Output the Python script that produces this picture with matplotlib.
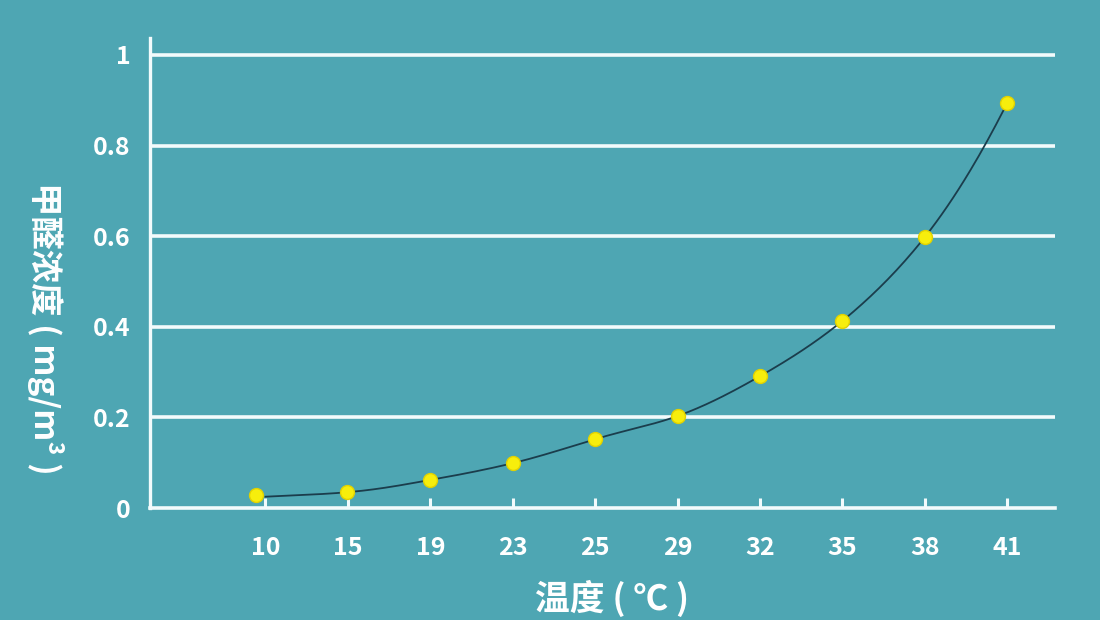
# 甲醛浓度随温度变化曲线
import numpy as np
import matplotlib
matplotlib.use('Agg')
import matplotlib.pyplot as plt

plt.rcParams['font.family'] = ['Noto Sans CJK SC', 'DejaVu Sans']

# 数据
temps = ['10', '15', '19', '23', '25', '29', '32', '35', '38', '41']
conc = [0.029, 0.035, 0.062, 0.099, 0.152, 0.203, 0.291, 0.413, 0.598, 0.894]
y_ticks = [0, 0.2, 0.4, 0.6, 0.8, 1]
y_labels = ['0', '0.2', '0.4', '0.6', '0.8', '1']

bg = '#4ea6b3'
grid_color = '#f2fbfc'
text_color = '#ffffff'

fig = plt.figure(figsize=(11, 6.2), dpi=100, facecolor=bg)
ax = fig.add_axes([0.1364, 0.1806, 0.8227, 0.7581], facecolor=bg)

x = np.arange(len(temps))

# 平滑曲线（对数空间 Catmull-Rom，仅用于绘制连线）
def smooth(xs, ys, n=30):
    ly = np.log(ys)
    px = np.concatenate([[2 * xs[0] - xs[1]], xs, [2 * xs[-1] - xs[-2]]])
    py = np.concatenate([[2 * ly[0] - ly[1]], ly, [2 * ly[-1] - ly[-2]]])
    out_x, out_y = [], []
    t = np.linspace(0, 1, n)
    for i in range(1, len(px) - 2):
        for p, o in ((px, out_x), (py, out_y)):
            p0, p1, p2, p3 = p[i - 1], p[i], p[i + 1], p[i + 2]
            o.extend(0.5 * ((2 * p1) + (-p0 + p2) * t
                            + (2 * p0 - 5 * p1 + 4 * p2 - p3) * t ** 2
                            + (-p0 + 3 * p1 - 3 * p2 + p3) * t ** 3))
    return np.array(out_x), np.exp(np.array(out_y))

# 点位略微偏左于刻度
pt_x = x - np.array([0.12, 0.01, 0.0, 0.0, 0.0, 0.0, 0.0, 0.0, 0.0, 0.0])
line_y = np.array(conc)
line_y[0] = 0.025
sx, sy = smooth(x.astype(float), line_y)
ax.plot(sx, sy, color='#1b3d4c', lw=1.3, zorder=3)
ax.scatter(pt_x, conc, s=100, marker='o', color='#f7ee0c',
           edgecolors='#e2d200', linewidths=1, zorder=4)

# 网格线
for yv in y_ticks[1:]:
    ax.axhline(yv, color=grid_color, lw=2.6, zorder=1)

ax.set_xlim(-1.40, 9.58)
ax.set_ylim(0, 1.0375)

for s in ['top', 'right']:
    ax.spines[s].set_visible(False)
ax.spines['left'].set_color(grid_color)
ax.spines['left'].set_linewidth(2.4)
ax.spines['bottom'].set_color(grid_color)
ax.spines['bottom'].set_linewidth(2.6)

ax.set_xticks(x)
ax.set_xticklabels(temps)
ax.set_yticks(y_ticks)
ax.set_yticklabels(y_labels)
ax.tick_params(axis='x', direction='in', length=7, width=2.2, color=grid_color,
               pad=20, labelsize=18, labelcolor=text_color)
ax.tick_params(axis='y', length=0, pad=14, labelsize=18, labelcolor=text_color)
for lab in ax.get_xticklabels() + ax.get_yticklabels():
    lab.set_fontweight('bold')

fig.text(0.041, 0.47, '甲醛浓度 ( mg/m³ )', rotation=270, ha='center', va='center',
         fontsize=24, fontweight='bold', color=text_color)
fig.text(0.556, 0.035, '温度 ( ℃ )', ha='center', va='center',
         fontsize=25, fontweight='bold', color=text_color)

fig.savefig('out.png', dpi=100, facecolor=bg)
